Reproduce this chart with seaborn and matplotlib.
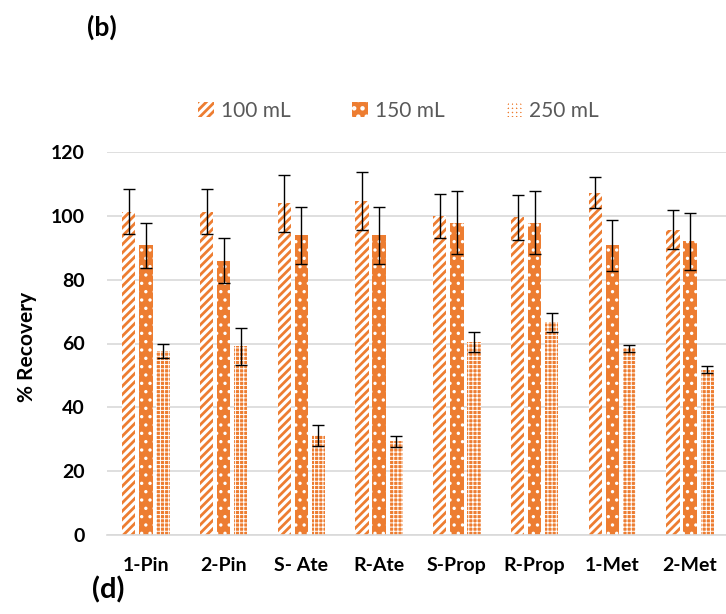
import matplotlib
matplotlib.use("Agg")
import matplotlib.pyplot as plt
import seaborn as sns
import pandas as pd
import numpy as np
from matplotlib.patches import Patch

compounds = ["1-Pin", "2-Pin", "S- Ate", "R-Ate", "S-Prop", "R-Prop", "1-Met", "2-Met"]
volumes = ["100 mL", "150 mL", "250 mL"]
rec_100 = [101.3, 101.3, 103.9, 104.7, 99.9, 99.5, 107.3, 95.7]
rec_150 = [90.8, 85.9, 93.9, 93.9, 97.9, 97.9, 90.8, 92.0]
rec_250 = [57.7, 59.1, 31.3, 29.3, 60.4, 66.7, 58.5, 51.8]
err_100 = [7.0, 7.0, 9.0, 9.1, 7.0, 7.0, 5.0, 6.0]
err_150 = [7.0, 7.0, 9.0, 9.0, 10.0, 10.0, 8.0, 9.0]
err_250 = [2.2, 5.7, 3.3, 1.7, 3.1, 3.0, 1.1, 1.0]
y_ticks = [0, 20, 40, 60, 80, 100, 120]

ORANGE = "#ED7D31"

sns.set_theme(style="white")
plt.rcParams["font.family"] = ["Lato", "DejaVu Sans"]
plt.rcParams["hatch.linewidth"] = 2.0

rows = []
for vol, vals, errs in zip(volumes, [rec_100, rec_150, rec_250], [err_100, err_150, err_250]):
    for c, v, e in zip(compounds, vals, errs):
        rows.append({"Compound": c, "Volume": vol, "Recovery": v, "Err": e})
df = pd.DataFrame(rows)

fig = plt.figure(figsize=(7.26, 6.14), dpi=100)
ax = fig.add_axes([107 / 726, 79 / 614, 622 / 726, 383 / 614])

sns.barplot(data=df, x="Compound", y="Recovery", hue="Volume", order=compounds,
            hue_order=volumes, palette=[ORANGE] * 3, width=0.66, gap=0.22,
            errorbar=None, legend=False, ax=ax, linewidth=0)

styles = {
    "100 mL": dict(facecolor="white", edgecolor=ORANGE, hatch="////", hlw=2.0),
    "150 mL": dict(facecolor=ORANGE, edgecolor="white", hatch="..", hlw=1.2),
    "250 mL": dict(facecolor=ORANGE, edgecolor="white", hatch="++++", hlw=0.7),
}

containers = ax.containers
for vol, cont in zip(volumes, containers):
    st = styles[vol]
    for bar in cont:
        bar.set_facecolor(st["facecolor"])
        bar.set_edgecolor(st["edgecolor"])
        bar.set_hatch(st["hatch"])
        bar.set_linewidth(0)
        if hasattr(bar, "set_hatch_linewidth"):
            bar.set_hatch_linewidth(st["hlw"])
    sub = df[df["Volume"] == vol].set_index("Compound").loc[compounds]
    xs = [b.get_x() + b.get_width() / 2 for b in cont]
    hs = [b.get_height() for b in cont]
    ax.errorbar(xs, hs, yerr=sub["Err"].values, fmt="none", ecolor="black",
                elinewidth=1.0, capsize=4.5, capthick=1.0, zorder=5)

ax.set_ylim(0, 120)
ax.set_yticks(y_ticks)
ax.set_xlim(-0.5, len(compounds) - 0.5)
ax.grid(axis="y", color="#D9D9D9", linewidth=1.2)
ax.set_axisbelow(True)
for s in ["top", "right", "left"]:
    ax.spines[s].set_visible(False)
ax.spines["bottom"].set_color("#D9D9D9")
ax.spines["bottom"].set_linewidth(1.2)
ax.tick_params(axis="both", length=0)
ax.tick_params(axis="y", pad=16, labelsize=14)
ax.tick_params(axis="x", pad=16, labelsize=14)
for lab in ax.get_yticklabels() + ax.get_xticklabels():
    lab.set_fontweight("bold")
    lab.set_color("black")
ax.set_xlabel("")
ax.set_ylabel("")

fig.text(27 / 726, 1 - 347 / 614, "% Recovery", rotation=90, ha="center", va="center",
         fontsize=15, fontweight="bold", color="black")
fig.text(102 / 726, 1 - 27 / 614, "(b)", ha="center", va="center",
         fontsize=19, fontweight="bold", color="black")
fig.text(108 / 726, 1 - 590 / 614, "(d)", ha="center", va="center",
         fontsize=21, fontweight="bold", color="black")

legend_x = [198, 352, 506]
for v, lx in zip(volumes, legend_x):
    h = Patch(facecolor=styles[v]["facecolor"], edgecolor=styles[v]["edgecolor"],
              hatch=styles[v]["hatch"], linewidth=0)
    if hasattr(h, "set_hatch_linewidth"):
        h.set_hatch_linewidth(styles[v]["hlw"])
    leg = fig.legend([h], [v], loc="center left", bbox_to_anchor=(lx / 726, 1 - 111 / 614),
                     frameon=False, fontsize=15, handlelength=0.75, handleheight=0.75,
                     handletextpad=0.35, borderpad=0, borderaxespad=0, labelcolor="#595959")

fig.savefig("out.png", dpi=100)
